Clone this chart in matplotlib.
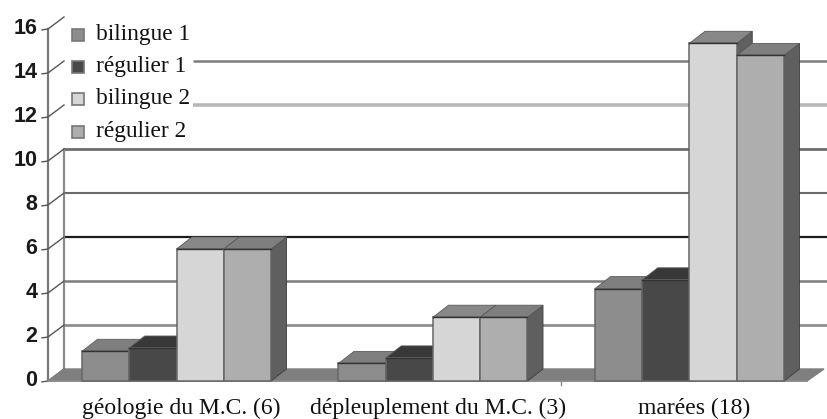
import matplotlib
matplotlib.use("Agg")
import matplotlib.pyplot as plt
from matplotlib.patches import Rectangle

categories = ["géologie du M.C. (6)", "dépleuplement du M.C. (3)", "marées (18)"]
series_names = ["bilingue 1", "régulier 1", "bilingue 2", "régulier 2"]
bilingue_1 = [1.35, 0.8, 4.2]
regulier_1 = [1.5, 1.05, 4.6]
bilingue_2 = [6.0, 2.9, 15.35]
regulier_2 = [6.0, 2.9, 14.8]
y_ticks = [0, 2, 4, 6, 8, 10, 12, 14, 16]

W, H = 827, 419
PX_X = 256.5          # pixels per category
PX_Y = 22.0           # pixels per value unit
X0_PX = 176.5         # pixel of first category
Y0_PX = 381           # pixel of value 0
DX = 15.5 / PX_X      # depth offset, x
DY = 12 / PX_Y        # depth offset, y
BAR_W = 47.25 / PX_X
LABEL_SHIFT = 5 / PX_X


def xd(px):
    return (px - X0_PX) / PX_X


def yd(px):
    return (Y0_PX - px) / PX_Y


fig = plt.figure(figsize=(W / 100, H / 100), dpi=100, facecolor="white")
ax = fig.add_axes([0, 0, 1, 1])
ax.set_xlim(xd(0), xd(W))
ax.set_ylim(yd(H), yd(0))
ax.axis("off")

# gridlines on the back wall
grid_style = {
    2: ("#8f8f8f", 2.0), 4: ("#7c7c7c", 1.8), 6: ("#1c1c1c", 1.6), 8: ("#6a6a6a", 1.5),
    10: ("#6e6e6e", 2.0), 12: ("#b8b8b8", 2.6), 14: ("#7c7c7c", 1.8),
}
for t, (c, lw) in grid_style.items():
    start = xd(64) if t <= 10 else xd(193)
    ax.plot([start, xd(W)], [t + DY, t + DY], color=c, lw=lw, zorder=1, solid_capstyle="butt")

# back wall edge and front axis
ax.plot([xd(64), xd(64)], [0 + DY, 10 + DY], color="#8a8a8a", lw=1.6, zorder=1.2)
ax.plot([xd(48), xd(48)], [0, 16], color="#777777", lw=1.6, zorder=1.2)

# diagonal ticks and value labels
for t in y_ticks:
    ax.plot([xd(42), xd(48), xd(64)], [t - 0.04, t, t + DY],
            color="#555555", lw=1.0, zorder=1.3)
    ax.text(xd(37.5), t + 0.03, str(t), ha="right", va="center", fontsize=15.5,
            family="Liberation Sans", fontweight="bold", color="#1a1a1a")

# floor
ax.fill([xd(48), xd(64), xd(824), xd(807)], [0, DY, DY, 0], color="#7f7f7f", zorder=1.5)
ax.plot([xd(48), xd(807)], [0, 0], color="#8c8c8c", lw=1.2, zorder=1.6)
ax.plot([1.5, 1.5], [0, -0.2], color="#888888", lw=1, zorder=1.6)

# 3-D looking bars
values = [bilingue_1, regulier_1, bilingue_2, regulier_2]
front = ["#8d8d8d", "#484848", "#d6d6d6", "#aeaeae"]
top = ["#7f7f7f", "#383838", "#888888", "#7f7f7f"]
side = ["#4f4f4f", "#333333", "#606060", "#5f5f5f"]
z = 2.0
for g in range(len(categories)):
    for s, vals in enumerate(values):
        v = vals[g]
        left = g + (s - 2) * BAR_W
        right = left + BAR_W
        ax.fill([right, right + DX, right + DX, right], [0, DY, v + DY, v],
                color=side[s], ec="#3c3c3c", lw=0.6, zorder=z)
        ax.fill([left, left + DX, right + DX, right], [v, v + DY, v + DY, v],
                color=top[s], ec="#5a5a5a", lw=0.6, zorder=z + 0.01)
        ax.bar(left, v, width=BAR_W, align="edge", color=front[s],
               edgecolor="#666666", linewidth=1.1, zorder=z + 0.02)
        ax.plot([left, right], [v, v], color="#333333", lw=1.0, zorder=z + 0.03)
        z += 0.1

# category labels
for g, name in enumerate(categories):
    ax.text(g + LABEL_SHIFT, yd(408), name, ha="center", va="center", fontsize=17,
            family="Liberation Serif", color="#111111")

# legend
ax.add_patch(Rectangle((xd(66), yd(148)), (192 - 66) / PX_X, (148 - 15) / PX_Y,
                       fc="white", ec="none", zorder=1.25))
legend_rows = [35, 67, 99, 132]
for r, name, c in zip(legend_rows, series_names, front):
    ax.plot([xd(77.5)], [yd(r)], marker="s", ms=8, mfc=c, mec="#777777", mew=1.2,
            ls="none", zorder=5)
    ax.text(xd(95.5), yd(r - 0.5), name, ha="left", va="center", fontsize=16.8,
            family="Liberation Serif", color="#111111", zorder=5)

fig.savefig("out.png", dpi=100, facecolor="white")
